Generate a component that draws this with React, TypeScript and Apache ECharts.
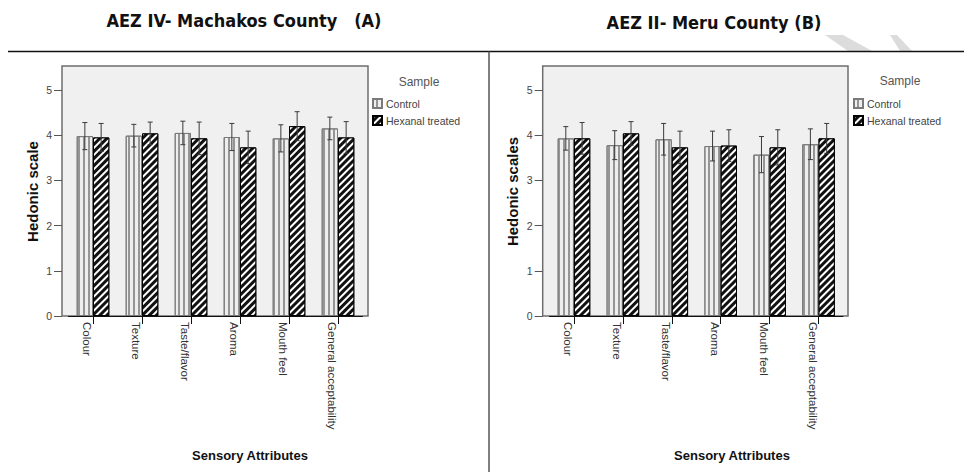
import React, { useEffect, useRef } from "react";
import * as echarts from "echarts";

const categories = ["Colour", "Texture", "Taste/flavor", "Aroma", "Mouth feel", "General acceptability"];
const seriesNames = ["Control", "Hexanal treated"];
const yTicks = [0, 1, 2, 3, 4, 5];

// Chart A: AEZ IV - Machakos County
const controlA = [3.98, 3.99, 4.05, 3.96, 3.93, 4.15];
const hexanalA = [3.95, 4.04, 3.93, 3.73, 4.2, 3.95];
const controlErrA = [0.3, 0.25, 0.26, 0.3, 0.3, 0.25];
const hexanalErrA = [0.31, 0.25, 0.36, 0.36, 0.32, 0.35];

// Chart B: AEZ II - Meru County
const controlB = [3.93, 3.78, 3.91, 3.76, 3.57, 3.8];
const hexanalB = [3.93, 4.04, 3.73, 3.77, 3.73, 3.93];
const controlErrB = [0.26, 0.32, 0.35, 0.33, 0.4, 0.34];
const hexanalErrB = [0.35, 0.26, 0.36, 0.35, 0.39, 0.33];

const BAR_W = 16.3;
const SANS = "'Liberation Sans', Arial, sans-serif";
const TITLE_FONT = "'DejaVu Sans Condensed', 'Liberation Sans', sans-serif";

const controlStyle = {
  color: "#eeeeee",
  borderColor: "#7a7a7a",
  borderWidth: 1,
  decal: {
    symbol: "rect",
    symbolSize: 1,
    color: "#959595",
    dashArrayX: [1, 0],
    dashArrayY: [1.5, 2.5],
    rotation: Math.PI / 2,
  },
};

const hexanalStyle = {
  color: "#111111",
  borderColor: "#000000",
  borderWidth: 1,
  decal: {
    symbol: "rect",
    symbolSize: 1,
    color: "#ffffff",
    dashArrayX: [1, 0],
    dashArrayY: [1.6, 2.6],
    rotation: -Math.PI / 4,
  },
};

function barSeries(name: string, axis: number, data: number[], style: any) {
  return {
    type: "bar",
    name,
    xAxisIndex: axis,
    yAxisIndex: axis,
    data,
    barWidth: BAR_W,
    barGap: "0%",
    itemStyle: style,
    z: 2,
  };
}

function errSeries(id: string, axis: number, means: number[], errs: number[], side: number) {
  return {
    type: "custom",
    name: id,
    xAxisIndex: axis,
    yAxisIndex: axis,
    z: 5,
    data: means.map((m, i) => [i, m - errs[i], m + errs[i]]),
    encode: { x: 0, y: [1, 2] },
    renderItem: (params: any, api: any) => {
      const i = api.value(0);
      const lo = api.coord([i, api.value(1)]);
      const hi = api.coord([i, api.value(2)]);
      const x = lo[0] + (side * BAR_W) / 2;
      const cw = 2.5;
      const st = { stroke: "#3a3a3a", lineWidth: 1 };
      return {
        type: "group",
        children: [
          { type: "line", shape: { x1: x, y1: hi[1], x2: x, y2: lo[1] }, style: st },
          { type: "line", shape: { x1: x - cw, y1: hi[1], x2: x + cw, y2: hi[1] }, style: st },
          { type: "line", shape: { x1: x - cw, y1: lo[1], x2: x + cw, y2: lo[1] }, style: st },
        ],
      };
    },
  };
}

function xAxisFor(idx: number) {
  return {
    type: "category",
    gridIndex: idx,
    data: categories,
    axisLine: { show: true, lineStyle: { color: "#111", width: 1 } },
    axisTick: { show: true, alignWithLabel: true, length: 8, lineStyle: { color: "#111" } },
    axisLabel: {
      rotate: -90,
      verticalAlign: "top",
      fontSize: 11.5,
      color: "#333",
      fontFamily: SANS,
      margin: 6,
      interval: 0,
    },
    splitLine: { show: false },
  };
}

function yAxisFor(idx: number, offset: number) {
  return {
    type: "value",
    gridIndex: idx,
    min: yTicks[0],
    max: yTicks[yTicks.length - 1],
    interval: 1,
    offset,
    axisLine: { show: false },
    axisTick: { show: true, length: 8, lineStyle: { color: "#555" } },
    axisLabel: { fontSize: 10.5, color: "#444", fontFamily: SANS, margin: 10, rotate: 0 },
    splitLine: { show: false },
  };
}

function legendFor(left: number) {
  return {
    data: seriesNames,
    orient: "vertical",
    left,
    top: 98,
    itemWidth: 9,
    itemHeight: 9,
    itemGap: 6,
    icon: "rect",
    selectedMode: false,
    textStyle: { fontSize: 10.5, color: "#444", fontFamily: SANS, padding: [0, 0, 0, -1] },
    padding: 0,
  };
}

function txt(text: string, x: number, y: number, style: any, rotation = 0) {
  return {
    type: "text",
    x,
    y,
    rotation,
    style: { text, align: "center", verticalAlign: "middle", fill: "#111", ...style },
    z: 10,
  };
}

export default function App() {
  const ref = useRef<HTMLDivElement>(null);
  useEffect(() => {
    if (!ref.current) return;
    const chart = echarts.init(ref.current, null, { renderer: "svg" });
    const option: any = {
      animation: false,
      backgroundColor: "#ffffff",
      grid: [
        { left: 68.5, top: 90, width: 294, height: 226, containLabel: false },
        { left: 549.5, top: 90, width: 293.5, height: 226, containLabel: false },
      ],
      xAxis: [xAxisFor(0), xAxisFor(1)],
      yAxis: [yAxisFor(0, 6.5), yAxisFor(1, 6.8)],
      legend: [legendFor(372), legendFor(853)],
      series: [
        barSeries(seriesNames[0], 0, controlA, controlStyle),
        barSeries(seriesNames[1], 0, hexanalA, hexanalStyle),
        barSeries(seriesNames[0], 1, controlB, controlStyle),
        barSeries(seriesNames[1], 1, hexanalB, hexanalStyle),
        errSeries("errA0", 0, controlA, controlErrA, -1),
        errSeries("errA1", 0, hexanalA, hexanalErrA, 1),
        errSeries("errB0", 1, controlB, controlErrB, -1),
        errSeries("errB1", 1, hexanalB, hexanalErrB, 1),
      ],
      graphic: [
        {
          type: "rect",
          shape: { x: 62, y: 66, width: 306, height: 250 },
          style: { fill: "#f0f0f0", stroke: "#6e6e6e", lineWidth: 1.5 },
          z: -10,
          silent: true,
        },
        {
          type: "rect",
          shape: { x: 542.7, y: 66, width: 305.3, height: 250 },
          style: { fill: "#f0f0f0", stroke: "#6e6e6e", lineWidth: 1.5 },
          z: -10,
          silent: true,
        },
        {
          type: "polygon",
          shape: { points: [[825, 35], [843, 35], [872, 51], [848, 51]] },
          style: { fill: "#dcdcdc" },
          z: -20,
          silent: true,
        },
        {
          type: "polygon",
          shape: { points: [[890, 35], [897, 35], [912, 51], [900, 51]] },
          style: { fill: "#dcdcdc" },
          z: -20,
          silent: true,
        },
        {
          type: "line",
          shape: { x1: 8, y1: 51.5, x2: 964, y2: 51.5 },
          style: { stroke: "#111", lineWidth: 1.3 },
          z: 10,
        },
        {
          type: "line",
          shape: { x1: 489, y1: 51.5, x2: 489, y2: 472 },
          style: { stroke: "#555", lineWidth: 1.5 },
          z: 10,
        },
        txt("AEZ IV- Machakos County   (A)", 244, 20, { font: `bold 18px ${TITLE_FONT}` }),
        txt("AEZ II- Meru County (B)", 714, 22, { font: `bold 18px ${TITLE_FONT}` }),
        txt("Hedonic scale", 32, 191.5, { font: `bold 15px ${SANS}` }, Math.PI / 2),
        txt("Hedonic scales", 512, 191.5, { font: `bold 15px ${SANS}` }, Math.PI / 2),
        txt("Sensory Attributes", 250, 455, { font: `bold 13px ${SANS}` }),
        txt("Sensory Attributes", 732, 455, { font: `bold 13px ${SANS}` }),
        txt("Sample", 419, 82, { font: `12px ${SANS}`, fill: "#555" }),
        txt("Sample", 900, 81, { font: `12px ${SANS}`, fill: "#555" }),
      ],
    };
    chart.setOption(option);
    return () => chart.dispose();
  }, []);
  return (
    <div
      ref={ref}
      style={{ position: "absolute", left: 0, top: 0, width: 964, height: 472 }}
    />
  );
}
